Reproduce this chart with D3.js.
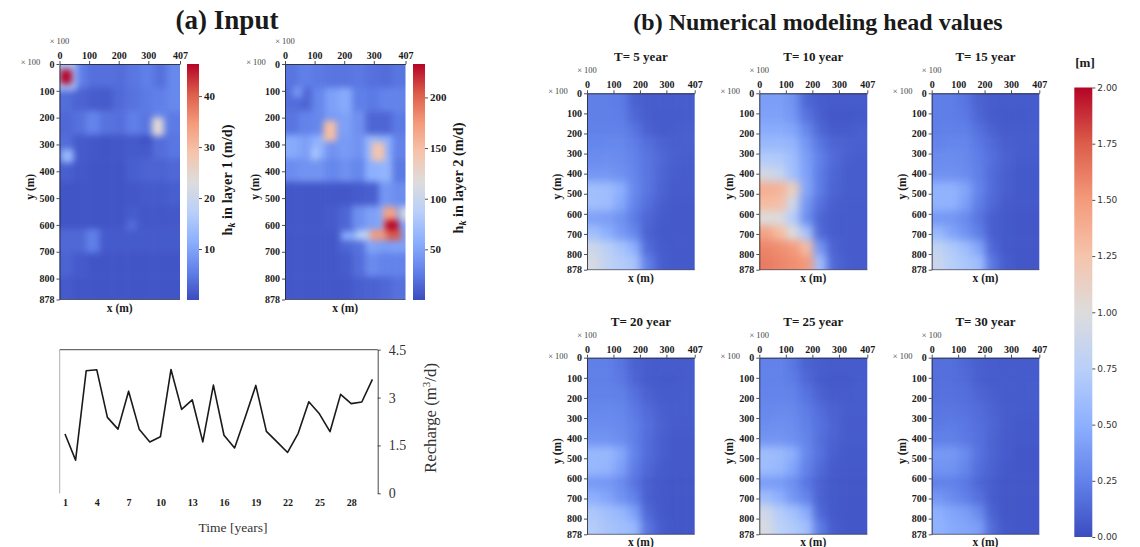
<!DOCTYPE html>
<html>
<head>
<meta charset="utf-8">
<script src="https://cdn.jsdelivr.net/npm/d3@7"></script>
<style>
  html, body { margin: 0; padding: 0; background: #fff; }
  text { font-family: "Liberation Serif", serif; fill: #1a1a1a; }
  .map-axis text { font-size: 10px; font-weight: bold; }
  .map-axis path, .map-axis line { stroke: #222; stroke-width: 0.8; }
  .bar-axis text { font-size: 11px; font-weight: bold; }
  .bar-axis path { display: none; }
  .bar-axis line { stroke: #222; stroke-width: 0.8; }
</style>
</head>
<body>
<div id="chart"></div>
<script>
// Map tick labels
var xTicks = [0, 100, 200, 300, 407];
var yTicks = [0, 100, 200, 300, 400, 500, 600, 700, 800, 878];

// Recharge per year
var years = d3.range(1, 31);
var recharge = [1.86, 1.04, 3.84, 3.87, 2.38, 2.01, 3.2, 2.01, 1.61, 1.77, 3.88, 2.63, 2.93, 1.61, 3.39,
  1.82, 1.42, 2.38, 3.38, 1.94, 1.61, 1.28, 1.88, 2.87, 2.49, 1.93, 3.1, 2.81, 2.86, 3.57];
var yearTicks = [1, 4, 7, 10, 13, 16, 19, 22, 25, 28];
var rechargeTicks = [0, 1.5, 3, 4.5];

// Hydraulic conductivity, layer 1 (m/d), 9 columns by 10 rows
var layer1 = [
  [7, 5.5, 3.8, 3.8, 3.5, 4.5, 5.5, 4, 6.5],
  [3.5, 2.5, 1.8, 1.7, 3.2, 4.2, 5, 5.5, 6.5],
  [3, 4, 6, 4.2, 3.8, 5.5, 4.5, 6, 5],
  [3.5, 1.5, 1.2, 1, 1.2, 1.5, 1.5, 3.5, 4.5],
  [2, 1.3, 1, 1, 1, 2, 2.5, 2.5, 3],
  [1, 1, 1, 1, 1, 1.2, 1.5, 1.5, 2],
  [1, 1, 1, 1, 1, 1.6, 1.2, 1.2, 1.3],
  [3, 3, 5.5, 1.5, 1.5, 1.5, 1.5, 1.5, 1.5],
  [2.5, 1.5, 1, 1, 1, 1, 1, 1, 1],
  [1.5, 1, 1, 1, 1, 1, 1, 1, 1]
];
// Finer patches laid over the grid: [x0, x1, y0, y1, value] in metres
var layer1Patches = [
  [0, 58, 0, 98, 15],
  [2, 42, 20, 75, 52],
  [312, 352, 200, 268, 24],
  [270, 310, 275, 295, 0.3],
  [5, 48, 318, 368, 13],
  [225, 260, 580, 622, 3.5]
];

// Hydraulic conductivity, layer 2 (m/d)
var layer2 = [
  [22, 28, 25, 22, 22, 24, 20, 18, 22],
  [18, 14, 32, 48, 55, 28, 25, 30, 30],
  [22, 30, 32, 45, 48, 38, 14, 14, 25],
  [55, 48, 60, 40, 45, 40, 65, 58, 30],
  [36, 40, 40, 32, 38, 32, 58, 62, 25],
  [6, 6, 6, 6, 6, 8, 10, 42, 36],
  [6, 6, 6, 8, 14, 38, 48, 55, 50],
  [6, 6, 6, 6, 14, 20, 50, 46, 48],
  [6, 6, 6, 6, 8, 18, 35, 30, 30],
  [6, 6, 6, 6, 6, 10, 12, 15, 20]
];
var layer2Patches = [
  [25, 60, 85, 125, 42],
  [130, 174, 212, 288, 150],
  [293, 337, 292, 362, 145],
  [90, 110, 310, 360, 80],
  [332, 377, 532, 619, 170],
  [338, 384, 582, 630, 250],
  [287, 343, 619, 657, 175],
  [343, 392, 619, 657, 205],
  [190, 240, 625, 657, 58],
  [240, 287, 619, 657, 90],
  [392, 407, 532, 585, 115]
];
var kTicks1 = [10, 20, 30, 40];
var kTicks2 = [50, 100, 150, 200];

// Head values (m), 8 columns by 12 rows
var headT5 = [
  [.24, .24, .22, .10, .08, .08, .08, .08],
  [.24, .24, .23, .13, .08, .07, .07, .08],
  [.25, .25, .25, .19, .10, .07, .08, .09],
  [.27, .28, .28, .23, .16, .11, .09, .09],
  [.31, .32, .30, .25, .19, .13, .09, .08],
  [.36, .36, .33, .27, .19, .12, .08, .07],
  [.62, .60, .50, .29, .19, .11, .07, .07],
  [.62, .60, .46, .26, .16, .09, .06, .06],
  [.42, .40, .34, .22, .12, .07, .06, .06],
  [.62, .50, .38, .28, .10, .06, .06, .06],
  [.88, .76, .66, .50, .14, .07, .06, .06],
  [.95, .80, .72, .66, .24, .09, .06, .06]
];
var headT10 = [
  [.40, .40, .34, .12, .08, .07, .07, .07],
  [.42, .42, .36, .18, .09, .05, .05, .06],
  [.48, .48, .44, .28, .13, .07, .07, .09],
  [.58, .58, .54, .36, .20, .12, .10, .09],
  [.72, .70, .60, .40, .24, .14, .09, .08],
  [.92, .85, .62, .42, .22, .12, .08, .08],
  [1.38, 1.35, 1.15, .44, .22, .11, .08, .08],
  [1.30, 1.28, .90, .36, .17, .09, .07, .07],
  [1.00, .98, .72, .32, .12, .08, .07, .07],
  [1.45, 1.30, 1.00, .65, .14, .08, .07, .07],
  [1.58, 1.55, 1.50, 1.30, .36, .10, .07, .07],
  [1.62, 1.58, 1.55, 1.50, .60, .13, .08, .07]
];
var headT15 = [
  [.23, .23, .19, .10, .08, .07, .07, .07],
  [.23, .23, .21, .12, .07, .06, .06, .07],
  [.24, .24, .24, .17, .10, .07, .07, .08],
  [.26, .27, .27, .21, .14, .09, .08, .08],
  [.30, .31, .29, .23, .16, .10, .07, .07],
  [.33, .33, .31, .24, .15, .09, .06, .06],
  [.52, .52, .44, .26, .15, .09, .06, .06],
  [.52, .52, .41, .23, .13, .07, .06, .06],
  [.37, .36, .30, .19, .09, .06, .05, .05],
  [.56, .44, .34, .24, .09, .06, .05, .05],
  [.80, .70, .60, .44, .13, .06, .05, .05],
  [.86, .74, .67, .60, .20, .08, .05, .05]
];
var headT20 = [
  [.24, .24, .19, .10, .08, .07, .07, .07],
  [.24, .24, .21, .12, .07, .06, .06, .07],
  [.25, .25, .24, .17, .10, .07, .07, .08],
  [.27, .28, .27, .21, .14, .09, .08, .08],
  [.31, .31, .29, .23, .16, .10, .07, .07],
  [.34, .34, .31, .24, .15, .09, .06, .06],
  [.56, .56, .46, .26, .15, .09, .06, .06],
  [.56, .54, .42, .23, .13, .07, .06, .06],
  [.38, .37, .31, .19, .09, .06, .05, .05],
  [.50, .44, .34, .25, .09, .06, .05, .05],
  [.68, .62, .56, .42, .13, .06, .05, .05],
  [.72, .66, .62, .56, .19, .08, .05, .05]
];
var headT25 = [
  [.25, .25, .20, .10, .08, .07, .07, .07],
  [.25, .25, .22, .13, .07, .06, .06, .07],
  [.26, .26, .25, .18, .10, .07, .07, .08],
  [.28, .29, .28, .22, .15, .10, .08, .08],
  [.31, .32, .30, .24, .17, .11, .07, .07],
  [.35, .35, .32, .26, .16, .10, .07, .07],
  [.60, .58, .49, .28, .17, .09, .06, .06],
  [.60, .56, .44, .25, .14, .07, .06, .06],
  [.40, .39, .32, .20, .10, .06, .05, .05],
  [.60, .50, .36, .26, .10, .06, .05, .05],
  [.90, .72, .63, .48, .13, .06, .05, .05],
  [.95, .78, .70, .62, .22, .08, .05, .05]
];
var headT30 = [
  [.16, .16, .13, .09, .08, .07, .07, .07],
  [.16, .16, .14, .09, .07, .07, .07, .07],
  [.17, .17, .16, .12, .09, .07, .07, .08],
  [.19, .19, .18, .15, .11, .08, .07, .07],
  [.21, .22, .20, .16, .12, .08, .06, .06],
  [.24, .24, .21, .17, .11, .07, .06, .06],
  [.37, .37, .30, .18, .11, .07, .05, .05],
  [.35, .34, .27, .16, .10, .06, .05, .05],
  [.25, .25, .21, .13, .08, .05, .05, .05],
  [.36, .30, .24, .17, .08, .05, .05, .05],
  [.50, .44, .40, .30, .10, .05, .05, .05],
  [.52, .47, .44, .40, .15, .06, .05, .05]
];
var headTitles = ["T= 5 year", "T= 10 year", "T= 15 year", "T= 20 year", "T= 25 year", "T= 30 year"];
var headGrids = [headT5, headT10, headT15, headT20, headT25, headT30];
var headTicks = [0, 0.25, 0.5, 0.75, 1, 1.25, 1.5, 1.75, 2];

// Blue-grey-red colour ramp, as the original colorbars
var rampStops = ["#3b4cc0", "#6282ea", "#8db0fe", "#b9d0f9", "#dddcdc", "#f5c4ac", "#f49a7b", "#dc5d4a", "#b40426"];

var width = 1140, height = 547;
var svg = d3.select("#chart").append("svg")
  .attr("width", width).attr("height", height)
  .style("display", "block");
var defs = svg.append("defs");

function addBlur(id, amount) {
  defs.append("filter").attr("id", id)
    .attr("filterUnits", "userSpaceOnUse")
    .attr("x", 0).attr("y", 0).attr("width", width).attr("height", height)
    .attr("color-interpolation-filters", "sRGB")
    .append("feGaussianBlur").attr("stdDeviation", amount);
}
addBlur("softInput", 3.2);
addBlur("softHead", 4.2);

var gradient = defs.append("linearGradient").attr("id", "ramp")
  .attr("x1", 0).attr("x2", 0).attr("y1", 1).attr("y2", 0);
rampStops.forEach(function (c, i) {
  gradient.append("stop").attr("offset", i / (rampStops.length - 1)).attr("stop-color", c);
});

function rampScale(lo, hi) {
  return d3.scaleLinear()
    .domain(rampStops.map(function (c, i) { return lo + (hi - lo) * i / (rampStops.length - 1); }))
    .range(rampStops)
    .clamp(true);
}

var clipCount = 0;

// One map panel: blurred cells from a grid, extra patches, axes on top and left
function drawMap(opts) {
  var x = d3.scaleLinear().domain([0, 407]).range([opts.left, opts.right]);
  var y = d3.scaleLinear().domain([0, 878]).range([opts.top, opts.bottom]);
  var nRows = opts.grid.length, nCols = opts.grid[0].length;
  var colX = d3.scaleLinear().domain([0, nCols]).range([opts.left, opts.right]);
  var rowY = d3.scaleLinear().domain([0, opts.rowSpan]).range([opts.top, opts.bottom]);
  var pad = 14; // cells on the edge run past the clip so the blur does not fade there

  var clipId = "clip" + (clipCount++);
  defs.append("clipPath").attr("id", clipId).append("rect")
    .attr("x", opts.left).attr("y", opts.top)
    .attr("width", opts.right - opts.left).attr("height", opts.bottom - opts.top);

  var g = svg.append("g").attr("clip-path", "url(#" + clipId + ")")
    .append("g").attr("filter", "url(#" + opts.blur + ")");

  var cells = [];
  opts.grid.forEach(function (row, r) {
    row.forEach(function (v, c) { cells.push({ r: r, c: c, v: v }); });
  });
  g.selectAll("rect.cell").data(cells).enter().append("rect")
    .attr("class", "cell")
    .attr("x", function (d) { return colX(d.c) - (d.c === 0 ? pad : 0); })
    .attr("y", function (d) { return rowY(d.r) - (d.r === 0 ? pad : 0); })
    .attr("width", function (d) { return colX(1) - colX(0) + (d.c === 0 || d.c === nCols - 1 ? pad : 0) + 0.5; })
    .attr("height", function (d) {
      var h = d.r === nRows - 1 ? opts.bottom - rowY(d.r) + pad : rowY(1) - rowY(0) + 0.5;
      return d.r === 0 ? h + pad : h;
    })
    .attr("fill", function (d) { return opts.color(d.v); });

  g.selectAll("rect.patch").data(opts.patches || []).enter().append("rect")
    .attr("class", "patch")
    .attr("x", function (d) { return x(d[0]) - (d[0] === 0 ? pad : 0); })
    .attr("y", function (d) { return y(d[2]) - (d[2] === 0 ? pad : 0); })
    .attr("width", function (d) { return x(d[1]) - x(d[0]) + (d[0] === 0 ? pad : 0) + (d[1] === 407 ? pad : 0); })
    .attr("height", function (d) { return y(d[3]) - y(d[2]) + (d[2] === 0 ? pad : 0); })
    .attr("fill", function (d) { return opts.color(d[4]); });

  svg.append("g").attr("class", "map-axis")
    .attr("transform", "translate(0," + opts.top + ")")
    .call(d3.axisTop(x).tickValues(xTicks).tickSize(3).tickPadding(2).tickSizeOuter(0));
  svg.append("g").attr("class", "map-axis")
    .attr("transform", "translate(" + opts.left + ",0)")
    .call(d3.axisLeft(y).tickValues(yTicks).tickSize(3).tickPadding(2).tickSizeOuter(0));
  // thin line along the bottom edge
  svg.append("line")
    .attr("x1", opts.left).attr("x2", opts.right)
    .attr("y1", opts.bottom).attr("y2", opts.bottom)
    .attr("stroke", "#334").attr("stroke-width", 0.7);

  svg.append("text").attr("x", opts.left).attr("y", opts.top - 20)
    .attr("text-anchor", "middle").attr("font-size", 8.5).style("fill", "#444").text("× 100");
  svg.append("text").attr("x", opts.left - 29).attr("y", opts.top + 1)
    .attr("text-anchor", "middle").attr("font-size", 8.5).style("fill", "#444").text("× 100");

  svg.append("text").attr("x", (opts.left + opts.right) / 2).attr("y", opts.bottom + 12)
    .attr("text-anchor", "middle").attr("font-size", 11.5).attr("font-weight", "bold").text("x (m)");
  svg.append("text")
    .attr("transform", "translate(" + (opts.left - 26) + "," + ((opts.top + opts.bottom) / 2 + 5) + ") rotate(-90)")
    .attr("text-anchor", "middle").attr("font-size", 11.5).attr("font-weight", "bold").text("y (m)");

  if (opts.title) {
    svg.append("text").attr("x", (opts.left + opts.right) / 2).attr("y", opts.top - 32)
      .attr("text-anchor", "middle").attr("font-size", 13).attr("font-weight", "bold").text(opts.title);
  }
}

function drawBar(opts) {
  var y = d3.scaleLinear().domain(opts.domain).range([opts.bottom, opts.top]);
  svg.append("rect")
    .attr("x", opts.left).attr("y", opts.top)
    .attr("width", opts.right - opts.left).attr("height", opts.bottom - opts.top)
    .attr("fill", "url(#ramp)");
  var axis = svg.append("g").attr("class", "bar-axis")
    .attr("transform", "translate(" + opts.right + ",0)")
    .call(d3.axisRight(y).tickValues(opts.ticks).tickSize(3).tickPadding(2).tickFormat(opts.format || d3.format("d")));
  return axis;
}

function kLabel(x, yc, layer) {
  var t = svg.append("text")
    .attr("transform", "translate(" + x + "," + yc + ") rotate(-90)")
    .attr("text-anchor", "middle").attr("font-size", 14.4).attr("font-weight", "bold");
  t.append("tspan").text("h");
  t.append("tspan").attr("font-size", 10).attr("dy", 3).attr("font-style", "italic").text("k");
  t.append("tspan").attr("dy", -3).text(" in layer " + layer + " (m/d)");
}

// Section titles
svg.append("text").attr("x", 227).attr("y", 29).attr("text-anchor", "middle")
  .attr("font-size", 27).attr("font-weight", "bold").text("(a) Input");
svg.append("text").attr("x", 818).attr("y", 30).attr("text-anchor", "middle")
  .attr("font-size", 24).attr("font-weight", "bold").text("(b) Numerical modeling head values");

// (a) input maps
drawMap({ left: 59.5, right: 180, top: 64, bottom: 299.5, grid: layer1, rowSpan: 878 / 88,
  color: rampScale(0, 46.3), patches: layer1Patches, blur: "softInput" });
drawBar({ left: 187, right: 199, top: 64, bottom: 300, domain: [0, 46.3], ticks: kTicks1 });
kLabel(232, 180, 1);

drawMap({ left: 285, right: 405.5, top: 64, bottom: 299.5, grid: layer2, rowSpan: 878 / 88,
  color: rampScale(0, 233), patches: layer2Patches, blur: "softInput" });
drawBar({ left: 413, right: 425, top: 64, bottom: 300, domain: [0, 233], ticks: kTicks2 });
kLabel(463, 178, 2);

// (b) head maps, 3 x 2
var headCols = [[587, 694.7], [759.3, 867.3], [931.7, 1039.3]];
var headRows = [[93.3, 269.7], [357.7, 534.3]];
var headColor = rampScale(0, 2);
headGrids.forEach(function (grid, i) {
  var col = headCols[i % 3], row = headRows[Math.floor(i / 3)];
  drawMap({ left: col[0], right: col[1], top: row[0], bottom: row[1], grid: grid, rowSpan: 12,
    color: headColor, title: headTitles[i], blur: "softHead" });
});

// Shared head colorbar
var headBar = drawBar({ left: 1074.3, right: 1092.3, top: 87.5, bottom: 537, domain: [0, 2],
  ticks: headTicks, format: d3.format(".2f") });
headBar.selectAll("text")
  .style("font-family", "'DejaVu Sans', sans-serif")
  .style("font-weight", "normal")
  .style("font-size", "9px")
  .style("fill", "#333");
svg.append("text").attr("x", 1085).attr("y", 67).attr("text-anchor", "middle")
  .attr("font-size", 13).attr("font-weight", "bold").text("[m]");

// Recharge line chart
var plot = { left: 59.7, right: 377.7, top: 349.7, bottom: 493.3 };
var xTime = d3.scalePoint().domain(years).range([plot.left, plot.right]).padding(0.5);
var yRecharge = d3.scaleLinear().domain([0, 4.5]).range([plot.bottom, plot.top]);

svg.append("line").attr("x1", plot.left).attr("x2", plot.right)
  .attr("y1", plot.top).attr("y2", plot.top).attr("stroke", "#333").attr("stroke-width", 0.9);
svg.append("line").attr("x1", plot.left).attr("x2", plot.left)
  .attr("y1", plot.top).attr("y2", plot.bottom).attr("stroke", "#999").attr("stroke-width", 0.8);

var rightAxis = svg.append("g")
  .attr("transform", "translate(" + plot.right + ",0)")
  .call(d3.axisRight(yRecharge).tickValues(rechargeTicks).tickSize(3).tickSizeOuter(0).tickPadding(8)
    .tickFormat(d3.format("")));
rightAxis.selectAll("path, line").attr("stroke", "#333").attr("stroke-width", 0.9);
rightAxis.selectAll("text").attr("font-size", 14).style("fill", "#333");

var bottomAxis = svg.append("g")
  .attr("transform", "translate(0," + plot.bottom + ")")
  .call(d3.axisBottom(xTime).tickValues(yearTicks).tickSize(0).tickPadding(6));
bottomAxis.select("path").remove();
bottomAxis.selectAll("text").attr("font-size", 10).attr("font-weight", "bold");

svg.append("path").datum(recharge)
  .attr("fill", "none").attr("stroke", "#1a1a1a").attr("stroke-width", 1.6)
  .attr("stroke-linejoin", "round")
  .attr("d", d3.line()
    .x(function (d, i) { return xTime(years[i]); })
    .y(function (d) { return yRecharge(d); }));

svg.append("text").attr("x", 233).attr("y", 532).attr("text-anchor", "middle")
  .attr("font-size", 13.5).style("fill", "#333").text("Time [years]");

var rechargeLabel = svg.append("text")
  .attr("transform", "translate(436,418) rotate(-90)")
  .attr("text-anchor", "middle").attr("font-size", 16.8).style("fill", "#333");
rechargeLabel.append("tspan").text("Recharge (m");
rechargeLabel.append("tspan").attr("font-size", 11).attr("dy", -6).text("3");
rechargeLabel.append("tspan").attr("dy", 6).text("/d)");
</script>
</body>
</html>
